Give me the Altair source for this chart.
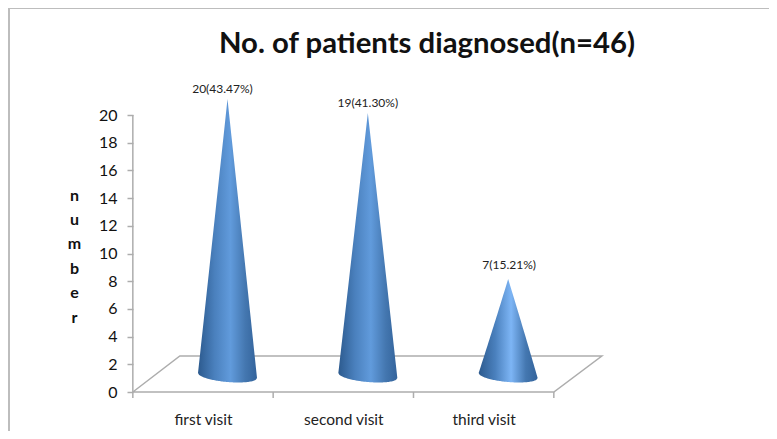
import numpy as np
import pandas as pd
import altair as alt

categories = ["first visit", "second visit", "third visit"]
patients = [20, 19, 7]
point_labels = ["20(43.47%)", "19(41.30%)", "7(15.21%)"]
y_ticks = list(range(0, 21, 2))
title_text = "No. of patients diagnosed(n=46)"
axis_title = list("number")

W, H = 761, 423
PX_U = 140.33
PX_V = 13.85
x0_px, y0_px = 203 - 8, 392 - 8
x_dom = [-x0_px / PX_U, (W - x0_px) / PX_U]
y_dom = [(y0_px - H) / PX_V, y0_px / PX_V]
xs = alt.Scale(domain=x_dom, range=[0, W], nice=False, zero=False)
ys = alt.Scale(domain=y_dom, range=[H, 0], nice=False, zero=False)

x_axis = alt.Axis(
    values=[0, 1, 2], labelExpr=f"{categories}[datum.value]", ticks=False, domain=False, grid=False,
    title=None, offset=-19, labelPadding=0, labelFontSize=15.5, labelFont="Lato", labelColor="#222222",
    labelBaseline="top")
GREY = "#adadad"
y_axis = alt.Axis(
    values=y_ticks, domain=False, grid=False, offset=-125, tickColor=GREY, tickSize=6, tickWidth=1.5,
    labelFontSize=16, labelFont="Lato", labelColor="#111111", labelPadding=10,
    title=axis_title, titleAngle=0, titleFont="Lato", titleFontSize=16, titleFontWeight="bold",
    titleColor="#111111", titleLineHeight=24.4, titleX=-59, titleY=179, titleAlign="center",
    titleBaseline="top")
X = lambda f="x": alt.X(f, type="quantitative", scale=xs, axis=x_axis)
Y = lambda f="y": alt.Y(f, type="quantitative", scale=ys, axis=y_axis)

DEPTH_U, DEPTH_V = 24.5 / PX_U, 1.15


def gradient(mid):
    return alt.Gradient(
        gradient="linear", x1=0, x2=1, y1=0, y2=0,
        stops=[
            alt.GradientStop(offset=0, color="#2c5a8e"),
            alt.GradientStop(offset=0.28, color="#4a80bd"),
            alt.GradientStop(offset=0.55, color=mid),
            alt.GradientStop(offset=0.8, color="#4477b0"),
            alt.GradientStop(offset=1, color="#33639b"),
        ],
    )


def cone(i, value):
    half_w = 29.5 / PX_U
    t = np.linspace(-1, 1, 61)
    cx = i + DEPTH_U
    tilt = -t * 2.5 / PX_V
    low = 1.19 + tilt - 6.5 / PX_V * np.sqrt(1 - t ** 2)
    top = value + DEPTH_V - (value + DEPTH_V - 1.19) * np.abs(t) + tilt * np.abs(t)
    return pd.DataFrame({"x": cx + t * half_w, "y": top, "y2": low})


layers = []

# chart border
one = pd.DataFrame({"a": [0]})
layers.append(alt.Chart(one).mark_rule(color="#bdbdbd", strokeWidth=2).encode(
    x=alt.value(1), y=alt.value(0), y2=alt.value(H)))
layers.append(alt.Chart(one).mark_rule(color="#bdbdbd", strokeWidth=2).encode(
    y=alt.value(0), x=alt.value(0), x2=alt.value(W)))

# floor
floor = pd.DataFrame({
    "x": [-0.5, 2.5, 2.5 + 48 / PX_U, -0.5 + 47 / PX_U, -0.5],
    "y": [0, 0, 36 / PX_V, 36 / PX_V, 0],
    "o": range(5),
})
layers.append(alt.Chart(floor).mark_line(color=GREY, strokeWidth=1.5).encode(
    x=X(), y=Y(), order="o:Q"))

# value axis line
axis_df = pd.DataFrame({"x": [-0.5] * 2, "y": [0, 20]})
layers.append(alt.Chart(axis_df).mark_line(color=GREY, strokeWidth=1.5).encode(x=X(), y=Y()))

# category ticks
ticks = pd.DataFrame({"x": [-0.5, 0.5, 1.5, 2.5], "y": [0] * 4, "y2": [-6 / PX_V] * 4})
layers.append(alt.Chart(ticks).mark_rule(color=GREY, strokeWidth=1.5).encode(x=X(), y=Y(), y2="y2:Q"))

# cones
for i, v in enumerate(patients):
    mid = "#7db5f5" if i == 2 else "#619bdc"
    layers.append(alt.Chart(cone(i, v)).mark_area(fill=gradient(mid), line=False).encode(
        x=X(), y=Y(), y2="y2:Q"))

# point labels (placed like the original, slightly off the apex)
label_dx = [-5 / PX_U, 0, 1 / PX_U]
label_dy = [-1 / PX_V, -1 / PX_V, 3.5 / PX_V]
lab = pd.DataFrame({
    "x": [i + DEPTH_U + d for i, d in enumerate(label_dx)],
    "y": [v + DEPTH_V + d for v, d in zip(patients, label_dy)],
    "t": point_labels,
})
layers.append(alt.Chart(lab).mark_text(font="Lato", fontSize=12, color="#222222", dy=-11).encode(
    x=X(), y=Y(), text="t:N"))

chart = alt.layer(*layers).properties(
    width=W, height=H,
    title=alt.TitleParams(title_text, font="Lato", fontSize=29.3, fontWeight="bold", color="#111111",
                          anchor="start", frame="group", offset=-52, dx=211),
    autosize=alt.AutoSizeParams(type="none"),
    padding=0,
).configure_view(stroke=None)

chart.save("out.html", embed_options={"renderer": "svg", "actions": False})
